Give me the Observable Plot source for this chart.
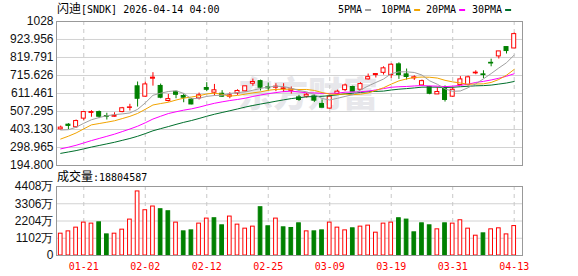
<!DOCTYPE html>
<html>
<head>
<meta charset="utf-8">
<script src="https://cdn.jsdelivr.net/npm/d3@7"></script>
<script src="https://cdn.jsdelivr.net/npm/@observablehq/plot@0.6"></script>
<style>
html,body{margin:0;padding:0;background:#fff;}
#wrap{position:relative;width:578px;height:276px;overflow:hidden;background:#fff;}
#wrap > *{position:absolute;left:0;}
#wm{top:73px;left:238px;font-family:"Noto Sans CJK SC",sans-serif;font-weight:900;font-size:35px;color:#e7e7eb;line-height:38px;white-space:nowrap;}
</style>
</head>
<body>
<div id="wrap"><div id="wm">东方财富</div></div>
<script>
// ---- data ----
const dates = ["01-15","01-16","01-20","01-21","01-22","01-23","01-26","01-27","01-28","01-29","01-30","02-02","02-03","02-04","02-05","02-06","02-09","02-10","02-11","02-12","02-13","02-17","02-18","02-19","02-20","02-23","02-24","02-25","02-26","02-27","03-02","03-03","03-04","03-05","03-06","03-09","03-10","03-11","03-12","03-13","03-16","03-17","03-18","03-19","03-20","03-23","03-24","03-25","03-26","03-27","03-30","03-31","04-01","04-02","04-06","04-07","04-08","04-09","04-10","04-13"];
const open  = [404,431,416,466,499,504,481,477,504,528,653,593,697,655,568,621,597,576,583,643,616,610,593,612,624,668,683,647,645,637,627,589,593,595,551,524,608,631,649,633,693,718,731,718,780,722,699,658,649,606,645,593,660,660,728,722,789,826,880,872];
const high  = [423,437,458,506,512,510,497,500,531,549,678,678,732,666,606,625,608,583,614,674,664,628,616,633,653,695,689,672,668,668,649,601,614,603,574,601,631,666,654,674,724,724,766,783,789,753,714,689,653,645,655,645,709,712,743,743,810,855,880,961];
const low   = [400,402,410,454,474,466,458,474,500,510,533,589,654,581,562,581,558,546,574,622,597,589,581,601,620,653,626,624,622,618,608,566,585,560,529,520,603,622,622,628,689,701,718,699,693,689,687,658,604,606,562,589,657,655,720,697,766,811,840,872];
const close = [414,424,452,504,504,477,477,483,526,531,581,664,703,587,579,604,587,548,601,633,630,593,601,626,653,678,645,641,651,641,635,574,604,570,529,593,622,658,622,666,706,724,757,778,718,707,705,683,610,620,574,633,693,705,732,718,785,855,857,955];
const ma5  = [400,402,416,439,459.6,472.2,482.8,489,493.4,498.8,519.6,557,601,613.2,622.8,627.4,612,581,583.8,594.6,599.8,601,611.6,616.6,620.6,630.2,640.6,648.6,653.6,651.2,642.6,628.4,621,604.8,582.4,574,583.6,594.4,604.8,632.2,654.8,675.2,695,726.2,736.6,736.8,733,718.2,684.6,665,638.4,624,626,645,667.4,696.2,726.6,759,789.4,834];
const ma10 = [348,364.4,383.1,406.7,429.9,437.6,445.3,453.6,466.2,479.2,495.9,519.9,545,553.3,560.8,573.5,584.5,591,598.5,608.7,613.6,606.5,596.3,600.2,607.6,615,620.8,630.1,635.1,635.9,636.4,634.5,634.8,629.2,616.8,608.3,606,607.7,604.8,607.3,614.4,629.4,644.7,665.5,684.4,695.8,704.1,706.6,705.4,700.8,687.6,678.5,672.1,664.8,666.2,667.3,675.3,692.5,717.2,750.7];
const ma20 = [291,300.7,311.7,325.3,339,351.3,363.6,376.2,390.9,405.9,422,441.9,463.7,479.8,495.4,505.6,515,522.4,532.4,544,554.8,563.2,570.7,576.8,584.2,594.3,602.7,610.6,616.8,622.3,625,620.5,615.6,614.7,612.2,611.7,613.4,618.9,620,621.6,625.4,632,639.8,647.4,650.6,652.1,655.1,657.2,655.1,654.1,651,654,658.4,665.2,675.3,681.6,689.7,699.6,711.3,725.8];
const ma30 = [265,273,281,291,301.5,310.7,319.9,329.3,340.2,351.2,363.9,379.2,395.6,408,420,432.6,444.5,454.9,466.9,479.7,491.4,501.5,511.5,521.9,532.7,542.1,550.3,558.3,566.7,574.6,582,587,592,594.2,595.1,598.9,603.8,609.6,612.8,617.3,621.5,623.5,625.3,631.6,636.3,639.7,643.6,648.1,648.4,648,646.1,647.5,650.5,653.2,655.8,657.1,660,666,672,681];
// volume in 万 shares; volUp: 1 = red (up vs previous close), 0 = green
const volume = [1394,1542,1780,2101,2037,2120,1349,1394,1651,2294,4093,2892,3129,2956,2827,2101,1542,1606,2037,2358,2380,1928,2487,1972,1715,1844,3084,1866,2358,1800,1758,2056,1542,1542,1606,2101,1780,1606,1737,1844,1908,1458,2037,2101,2380,2294,1480,2056,1928,1672,2056,2037,2251,1715,1265,1415,1672,1737,1349,1880.4587];
const volUp  = [1,1,1,1,1,0,0,1,1,1,1,1,1,0,0,1,0,0,1,1,0,0,1,1,1,1,0,0,1,0,0,0,1,0,0,1,1,1,0,1,1,1,1,1,0,0,0,0,0,1,0,1,1,1,1,0,1,1,1,1];
const priceTicks = [194.8,298.965,403.13,507.295,611.461,715.626,819.791,923.956,1028];
const priceTickLabels = ["194.800","298.965","403.130","507.295","611.461","715.626","819.791","923.956","1028"];
const volTicks = [0,1102,2204,3306,4408];
const volTickLabels = ["0","1102万","2204万","3306万","4408万"];
const xTickLabels = ["01-21","02-02","02-12","02-25","03-09","03-19","03-31","04-13"];
const maNames = ["5PMA","10PMA","20PMA","30PMA"];
const titleName = "闪迪", titleRest = "[SNDK] 2026-04-14 04:00";
const volLabel = "成交量", volValue = ":18804587";

// ---- styling ----
const RED = "#ff0000", GREEN = "#008000";
const maColors = ["#a0a0a0", "#f2a400", "#ff00ff", "#006f2c"];
const maSeries = [ma5, ma10, ma20, ma30];
const GRID = "#d2d2d2", VGRID = "#c8c8c8", FRAME = "#999999";
const MONO = "DejaVu Sans Mono, monospace", CJK = "Noto Sans CJK SC, sans-serif", SANS = "Liberation Sans, Arial, sans-serif";

const idx = d3.range(dates.length);
const up = idx.map(i => close[i] >= open[i]);
const xDomain = [-0.55, 60.08];
const xTicks = xTickLabels.map(l => dates.indexOf(l));
const W = 578;

const price = Plot.plot({
  width: W, height: 170,
  marginLeft: 56, marginRight: 56, marginTop: 21, marginBottom: 5,
  style: {background: "transparent", overflow: "visible"},
  x: {type: "linear", domain: xDomain, axis: null},
  y: {type: "linear", domain: [priceTicks[0], priceTicks[priceTicks.length - 1]]},
  color: {type: "identity"},
  marks: [
    Plot.ruleY(priceTicks.slice(1, -1), {stroke: GRID}),
    Plot.ruleX(xTicks, {stroke: VGRID, strokeDasharray: "4,4"}),
    Plot.ruleX(idx, {x: i => i, y1: i => low[i], y2: i => high[i], stroke: i => up[i] ? RED : GREEN}),
    Plot.rect(idx, {x1: i => i - 0.26, x2: i => i + 0.26, y1: i => open[i], y2: i => close[i],
      fill: i => up[i] ? "#ffffff" : GREEN, stroke: i => up[i] ? RED : GREEN}),
    ...maSeries.slice().reverse().map((s, k) => Plot.line(idx, {x: i => i, y: i => s[i], stroke: maColors[3 - k], strokeWidth: 1})),
    Plot.axisY(priceTicks, {tickFormat: d => priceTickLabels[priceTicks.indexOf(d)], tickSize: 0, tickPadding: 3,
      fontSize: 12, fontFamily: SANS, fill: "#111", label: null}),
    Plot.frame({stroke: FRAME})
  ]
});
price.style.top = "0px";

const vol = Plot.plot({
  width: W, height: 106,
  marginLeft: 56, marginRight: 56, marginTop: 16, marginBottom: 21,
  style: {background: "transparent", overflow: "visible"},
  x: {type: "linear", domain: xDomain},
  y: {type: "linear", domain: [volTicks[0], volTicks[volTicks.length - 1]]},
  color: {type: "identity"},
  marks: [
    Plot.ruleY(volTicks.slice(1, -1), {stroke: GRID}),
    Plot.ruleX(xTicks, {stroke: VGRID, strokeDasharray: "4,4"}),
    Plot.rect(idx, {x1: i => i - 0.24, x2: i => i + 0.24, y1: 0, y2: i => volume[i],
      fill: i => volUp[i] ? "#ffffff" : GREEN, stroke: i => volUp[i] ? RED : GREEN}),
    Plot.axisY(volTicks, {tickFormat: d => volTickLabels[volTicks.indexOf(d)], tickSize: 0, tickPadding: 3,
      fontSize: 12, fontFamily: SANS, fill: "#111", label: null}),
    Plot.axisX(xTicks, {tickFormat: d => dates[d], tickSize: 0, tickPadding: 7,
      fontSize: 10, fontFamily: MONO, fill: RED, label: null}),
    Plot.frame({stroke: FRAME})
  ]
});
vol.style.top = "170px";

const wrap = document.getElementById("wrap");
wrap.appendChild(price);
wrap.appendChild(vol);

// ---- title, legend, volume label ----
const ov = d3.create("svg").attr("width", W).attr("height", 276)
  .style("position", "absolute").style("left", "0px").style("top", "0px");
const t = ov.append("text").attr("x", 57).attr("y", 13).attr("font-family", MONO).attr("font-size", 10).attr("fill", "#000");
t.append("tspan").attr("font-family", CJK).attr("font-size", 12).text(titleName);
t.append("tspan").text(titleRest);

const legX = [338, 381, 426, 472];
maNames.forEach((n, k) => {
  ov.append("text").attr("x", legX[k]).attr("y", 13).attr("font-family", MONO).attr("font-size", 10).attr("fill", "#000").text(n);
  const w = n.length * 6.02;
  ov.append("rect").attr("x", legX[k] + w + 3).attr("y", 9).attr("width", 6).attr("height", 2).attr("fill", maColors[k]);
});

const v = ov.append("text").attr("x", 57).attr("y", 181).attr("font-family", MONO).attr("font-size", 10).attr("fill", "#000");
v.append("tspan").attr("font-family", CJK).attr("font-size", 12).text(volLabel);
v.append("tspan").text(volValue);
wrap.appendChild(ov.node());
</script>
</body>
</html>
